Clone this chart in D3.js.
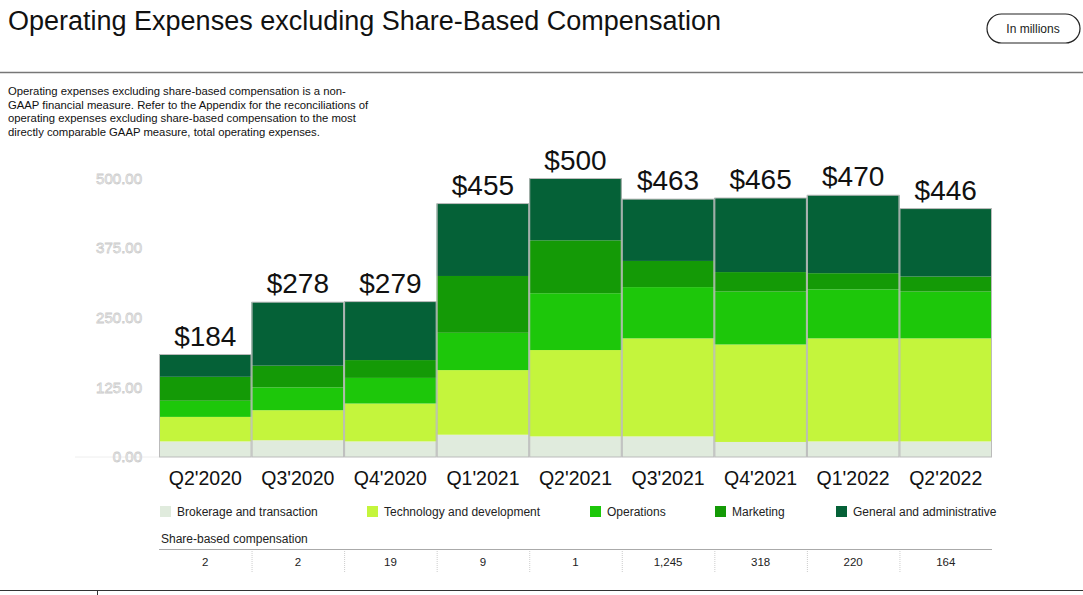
<!DOCTYPE html>
<html>
<head>
<meta charset="utf-8">
<script src="https://cdn.jsdelivr.net/npm/d3@7"></script>
<style>
  body { margin: 0; background: #fff; }
  text { font-family: "Liberation Sans", Arial, sans-serif; }
</style>
</head>
<body>
<svg width="1083" height="595"></svg>
<script>
// data (in millions)
let quarters = ["Q2'2020", "Q3'2020", "Q4'2020", "Q1'2021", "Q2'2021", "Q3'2021", "Q4'2021", "Q1'2022", "Q2'2022"];
let brokerage = [28, 30, 28, 40, 37, 37, 27, 28, 28];
let technology = [44, 54, 68, 116, 155, 176, 175, 185, 185];
let operations = [29, 41, 46, 67, 102, 92, 95, 88, 84];
let marketing = [43, 39, 32, 102, 95, 47, 35, 29, 27];
let generalAdmin = [40, 114, 105, 130, 111, 111, 133, 140, 122];
let totals = [184, 278, 279, 455, 500, 463, 465, 470, 446];
let shareBased = ["2", "2", "19", "9", "1", "1,245", "318", "220", "164"];
let yTicks = [0, 125, 250, 375, 500];

let seriesNames = ["Brokerage and transaction", "Technology and development", "Operations", "Marketing", "General and administrative"];
let seriesData = [brokerage, technology, operations, marketing, generalAdmin];
let colors = ["#e0ebdd", "#c4f53c", "#1dc70a", "#149a06", "#056137"];
let legendX = [160, 367, 590, 715, 836];

let svg = d3.select("svg");

// header
svg.append("text").attr("x", 8).attr("y", 30).attr("font-size", 27).attr("fill", "#111")
  .text("Operating Expenses excluding Share-Based Compensation");
svg.append("rect").attr("x", 987).attr("y", 14).attr("width", 93).attr("height", 29)
  .attr("rx", 14.5).attr("fill", "none").attr("stroke", "#222").attr("stroke-width", 1.2);
svg.append("text").attr("x", 1033).attr("y", 33).attr("text-anchor", "middle")
  .attr("font-size", 12).attr("font-family", "Inter").attr("fill", "#222").text("In millions");
svg.append("line").attr("x1", 0).attr("x2", 1083).attr("y1", 72.5).attr("y2", 72.5)
  .attr("stroke", "#777").attr("stroke-width", 1.5);

let note = ["Operating expenses excluding share-based compensation is a non-",
  "GAAP financial measure. Refer to the Appendix for the reconciliations of",
  "operating expenses excluding share-based compensation to the most",
  "directly comparable GAAP measure, total operating expenses."];
svg.append("g").selectAll("text").data(note).join("text")
  .attr("x", 8).attr("y", (d, i) => 95 + i * 13.5)
  .attr("font-size", 11.3).attr("fill", "#111").text(d => d);

// scales
let x = d3.scaleBand().domain(quarters).range([159, 992]).padding(0);
let y = d3.scaleLinear().domain([0, 500]).range([457, 178.5]);

// y axis (hollow labels)
svg.append("line").attr("x1", 75).attr("x2", 159).attr("y1", 457).attr("y2", 457)
  .attr("stroke", "#eee");
let yAxis = svg.append("g").attr("transform", "translate(145,0)")
  .call(d3.axisLeft(y).tickValues(yTicks).tickFormat(d3.format(".2f")).tickSize(0));
yAxis.select(".domain").remove();
yAxis.selectAll("text").attr("font-size", 15).attr("fill", "#fff")
  .attr("stroke", "#ccc").attr("stroke-width", 0.8);

// stacks
let rows = quarters.map((q, i) => {
  let r = { q: q };
  seriesNames.forEach((s, k) => r[s] = seriesData[k][i]);
  return r;
});
let stacked = d3.stack().keys(seriesNames)(rows);

svg.append("g").selectAll("g").data(stacked).join("g")
  .attr("fill", (d, i) => colors[i])
  .selectAll("rect").data(d => d).join("rect")
  .attr("x", d => x(d.data.q))
  .attr("width", x.bandwidth())
  .attr("y", d => y(d[1]))
  .attr("height", d => y(d[0]) - y(d[1]));

// bar outlines
svg.append("g").selectAll("rect").data(quarters).join("rect")
  .attr("x", d => x(d) + 0.5).attr("width", x.bandwidth() - 1)
  .attr("y", (d, i) => y(totals[i])).attr("height", (d, i) => y(0) - y(totals[i]))
  .attr("fill", "none").attr("stroke", "#bbb").attr("stroke-width", 1);

// totals
svg.append("g").selectAll("text").data(quarters).join("text")
  .attr("x", d => x(d) + x.bandwidth() / 2)
  .attr("y", (d, i) => y(totals[i]) - 9)
  .attr("text-anchor", "middle").attr("font-size", 28).attr("fill", "#111")
  .text((d, i) => "$" + totals[i]);

// x axis
let xAxis = svg.append("g").attr("transform", "translate(0,457)")
  .call(d3.axisBottom(x).tickSize(0).tickPadding(14));
xAxis.select(".domain").remove();
xAxis.selectAll("text").attr("font-size", 19.5).attr("fill", "#111");

// legend
let lg = svg.append("g").selectAll("g").data(seriesNames).join("g")
  .attr("transform", (d, i) => `translate(${legendX[i]},506)`);
lg.append("rect").attr("width", 11).attr("height", 11).attr("fill", (d, i) => colors[i]);
lg.append("text").attr("x", 17).attr("y", 10).attr("font-size", 12).attr("fill", "#222").text(d => d);

// share-based compensation table
svg.append("text").attr("x", 161).attr("y", 543).attr("font-size", 12).attr("fill", "#222")
  .text("Share-based compensation");
svg.append("line").attr("x1", 159).attr("x2", 992).attr("y1", 549.5).attr("y2", 549.5)
  .attr("stroke", "#aaa");
svg.append("g").selectAll("line").data(quarters.slice(1)).join("line")
  .attr("x1", d => x(d) + 0.5).attr("x2", d => x(d) + 0.5)
  .attr("y1", 551).attr("y2", 573)
  .attr("stroke", "#ccc").attr("stroke-dasharray", "1,1");
svg.append("g").selectAll("text").data(quarters).join("text")
  .attr("x", d => x(d) + x.bandwidth() / 2).attr("y", 566)
  .attr("text-anchor", "middle").attr("font-size", 11.5).attr("fill", "#222")
  .text((d, i) => shareBased[i]);

// footer rule
svg.append("line").attr("x1", 0).attr("x2", 1083).attr("y1", 590.5).attr("y2", 590.5)
  .attr("stroke", "#333").attr("stroke-width", 1.2);
svg.append("line").attr("x1", 97.5).attr("x2", 97.5).attr("y1", 590).attr("y2", 595)
  .attr("stroke", "#333");
</script>
</body>
</html>
